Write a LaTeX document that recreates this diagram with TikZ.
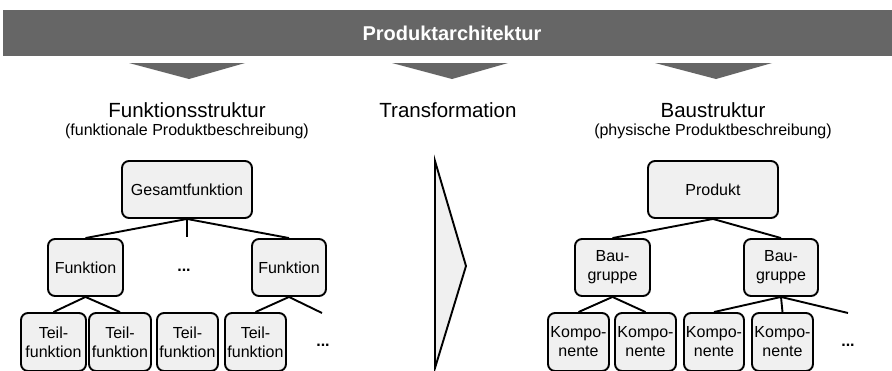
\documentclass[tikz,border=0pt]{standalone}
\usepackage{fontspec}
\setmainfont{Liberation Sans}
\definecolor{bandgray}{HTML}{666666}
\definecolor{boxgray}{HTML}{F0F0F0}
\begin{document}
\begin{tikzpicture}[x=1pt,y=-1pt,
  box/.style={draw=black, line width=1.9pt, fill=boxgray, rounded corners=7pt,
    align=center, inner sep=1pt, font=\fontsize{16}{19}\selectfont},
  link/.style={line width=1.9pt},
  head/.style={font=\fontsize{20.5}{24}\selectfont, anchor=base, inner sep=0pt},
  sub/.style={font=\fontsize{16}{19}\selectfont, anchor=base, inner sep=0pt},
  wedge/.style={fill=bandgray},
  dots/.style={font=\fontsize{16}{19}\selectfont\bfseries, inner sep=0pt}]
\clip (0,0) rectangle (892,370);
\fill[white] (0,0) rectangle (892,370);

% banner with the three downward wedges
\fill[bandgray] (3,10) rectangle (892,56);
\node[text=white, font=\fontsize{20}{24}\selectfont\bfseries] (banner) at (452,33) {Produktarchitektur};
\fill[wedge] (129,63) -- (245,63) -- (189,79) -- cycle;
\fill[wedge] (392,63) -- (508,63) -- (452,79) -- cycle;
\fill[wedge] (655,63) -- (772,63) -- (716,79) -- cycle;

% column headings
\node[head] (fsHead) at (187,117) {Funktionsstruktur};
\node[sub]  (fsSub)  at (187,135) {(funktionale Produktbeschreibung)};
\node[head] (trHead) at (448,117) {Transformation};
\node[head] (bsHead) at (713,117) {Baustruktur};
\node[sub]  (bsSub)  at (713,135) {(physische Produktbeschreibung)};

% transformation arrow
\draw[line width=1.9pt, fill=boxgray, line join=miter] (435,161) -- (466,266) -- (435,368) -- cycle;

% function structure
\node[box, minimum width=130pt, minimum height=57pt] (ges) at (187,189.5) {Gesamtfunktion};
\node[box, minimum width=75pt, minimum height=57pt] (fL) at (85.5,267.5) {Funktion};
\node[box, minimum width=74pt, minimum height=57pt] (fR) at (289,267.5) {Funktion};
\node[dots] (fDots) at (184,270) {...};
\node[box, minimum width=65pt, minimum height=58pt] (t1) at (53.5,342) {Teil-\\funktion};
\node[box, minimum width=62pt, minimum height=58pt] (t2) at (120,342) {Teil-\\funktion};
\node[box, minimum width=61pt, minimum height=58pt] (t3) at (187.5,342) {Teil-\\funktion};
\node[box, minimum width=61pt, minimum height=58pt] (t4) at (255.5,342) {Teil-\\funktion};
\node[dots] (tDots) at (323,345) {...};
\coordinate (gesMid) at (187,237);
\coordinate (fRopen) at (322,313);

\draw[link] (ges.south) -- (fL.north);
\draw[link] (ges.south) -- (gesMid);
\draw[link] (ges.south) -- (fR.north);
\draw[link] (fL.south) -- (t1.north);
\draw[link] (fL.south) -- (t2.north);
\draw[link] (fR.south) -- (t4.north);
\draw[link] (fR.south) -- (fRopen);

% build structure
\node[box, minimum width=130pt, minimum height=57pt] (prod) at (713,189.5) {Produkt};
\node[box, minimum width=75pt, minimum height=57pt] (bL) at (612.5,267.5) {Bau-\\gruppe};
\node[box, minimum width=74pt, minimum height=57pt] (bR) at (781,267.5) {Bau-\\gruppe};
\node[box, minimum width=61pt, minimum height=58pt] (k1) at (578.5,342) {Kompo-\\nente};
\node[box, minimum width=61pt, minimum height=58pt] (k2) at (645.5,342) {Kompo-\\nente};
\node[box, minimum width=60pt, minimum height=58pt] (k3) at (714,342) {Kompo-\\nente};
\node[box, minimum width=61pt, minimum height=58pt] (k4) at (782.5,342) {Kompo-\\nente};
\node[dots] (kDots) at (848,345) {...};
\coordinate (bRopen) at (848,313);

\draw[link] (prod.south) -- (bL.north);
\draw[link] (prod.south) -- (bR.north);
\draw[link] (bL.south) -- (k1.north);
\draw[link] (bL.south) -- (k2.north);
\draw[link] (bR.south) -- (k3.north);
\draw[link] (bR.south) -- (k4.north);
\draw[link] (bR.south) -- (bRopen);
\end{tikzpicture}
\end{document}
